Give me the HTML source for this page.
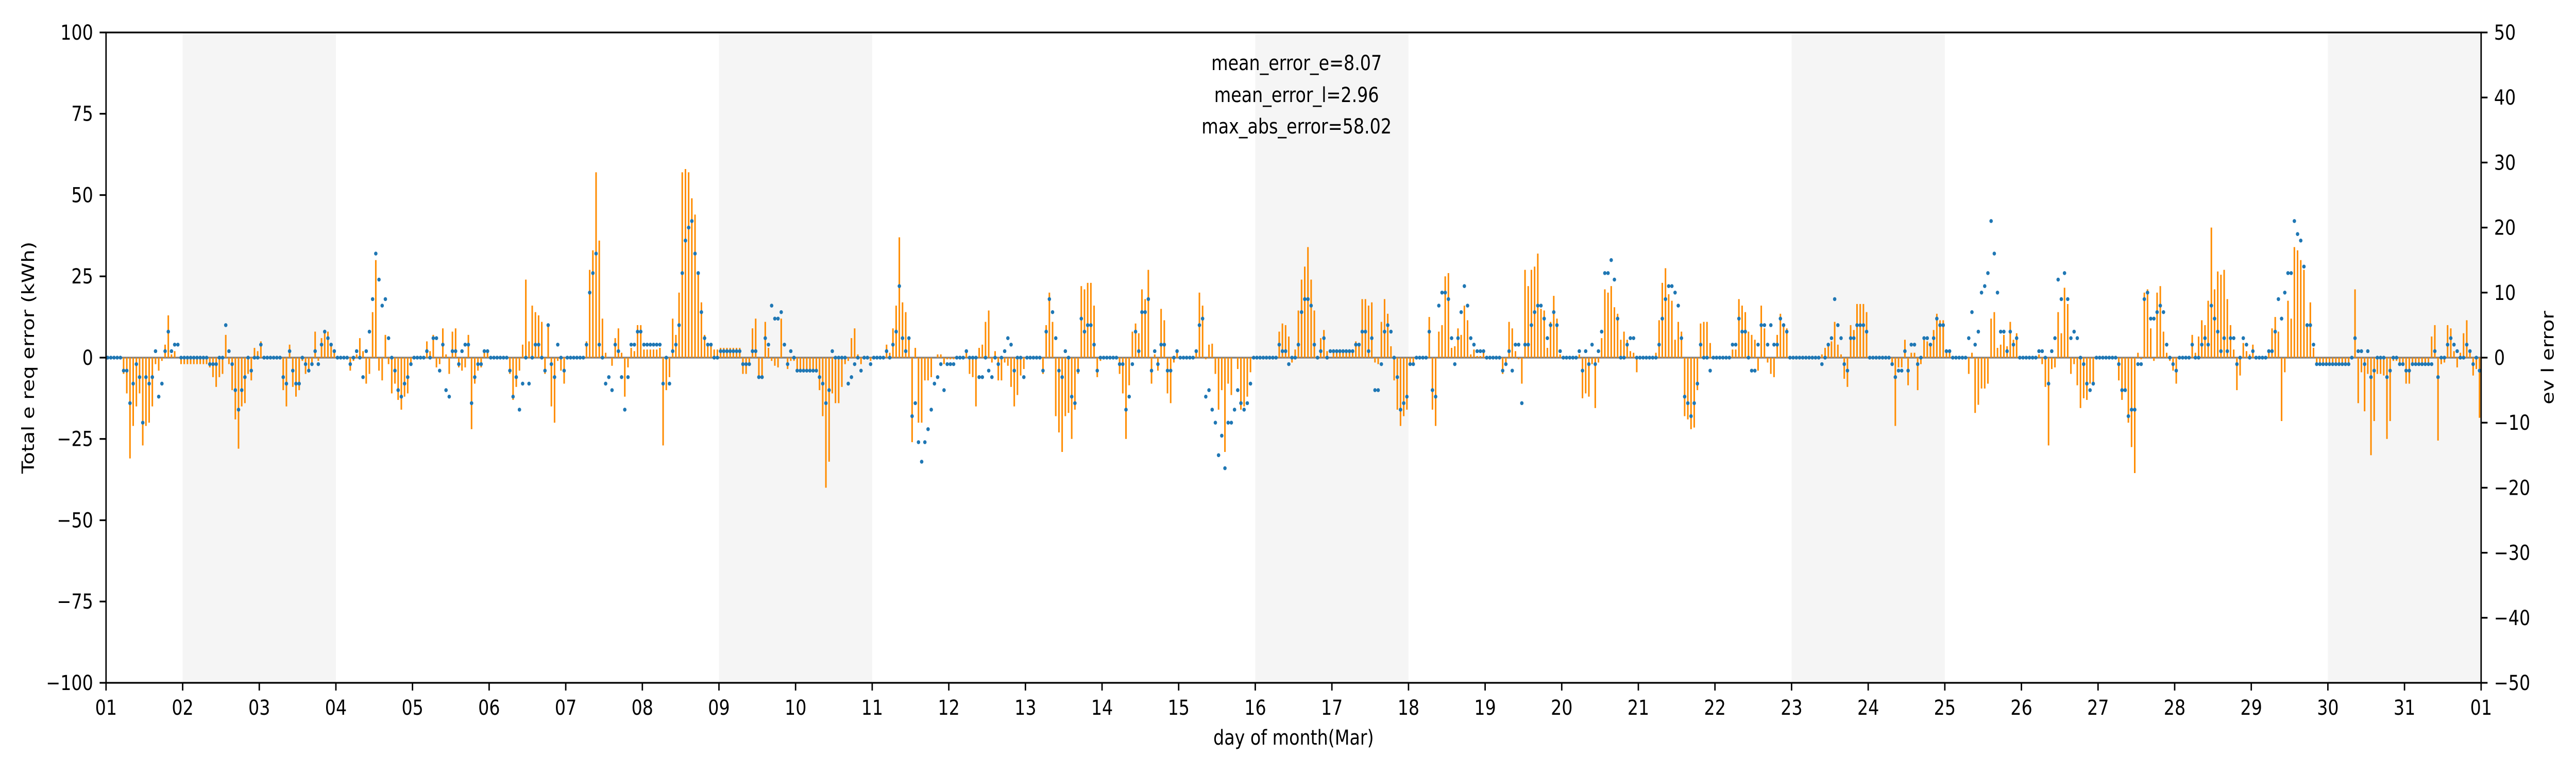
<!DOCTYPE html>
<html><head><meta charset="utf-8">
<style>
html,body{margin:0;padding:0;background:#fff;width:100%;height:100%;overflow:hidden;}
svg{display:block;width:100vw;height:100vh;font-family:"DejaVu Sans","Liberation Sans",sans-serif;}
</style></head>
<body>
<svg id="chart" viewBox="0 0 6000 1500" preserveAspectRatio="none" xmlns="http://www.w3.org/2000/svg">
<rect width="6000" height="1500" fill="#fff"/>
<g id="bands"></g>
<g id="zero"></g>
<g id="bars"></g>
<g id="dots"></g>
<g id="axes"></g>
<text x="3020" y="136" font-size="40" text-anchor="middle">mean_error_e=8.07</text>
<text x="3020" y="198" font-size="40" text-anchor="middle">mean_error_l=2.96</text>
<text x="3020" y="259" font-size="40" text-anchor="middle">max_abs_error=58.02</text>
<text x="3013" y="1445" font-size="40" text-anchor="middle">day of month(Mar)</text>
<text transform="translate(79,694) rotate(-90)" font-size="40" text-anchor="middle">Total e req error (kWh)</text>
<text transform="translate(5948,694) rotate(-90)" font-size="40" text-anchor="middle">ev l error</text>
</svg>
<script>
const dayLabels = ["01","02","03","04","05","06","07","08","09","10","11","12","13","14","15","16","17","18","19","20","21","22","23","24","25","26","27","28","29","30","31","01"];
const leftTicks = [-100,-75,-50,-25,0,25,50,75,100];
const rightTicks = [-50,-40,-30,-20,-10,0,10,20,30,40,50];
const weekendStarts = [1,8,15,22,29];
const barDays = [
[0,0,0,0,0,-5,-11,-31,-21,-15,-11,-27,-21,-20,-15,-2,-4,-1,4,13,1,2,0,-2],
[-2,-2,-2,-2,-2,-2,-2,-2,-3,-6,-9,-6,-5,7,-2,-10,-19,-28,-15,-14,-5,-7,3,2],
[5,0,0,0,0,0,0,-10,-15,4,-9,-12,-10,-1,-5,-4,-2,8,-1,6,8,8,4,2],
[0,0,0,0,-4,-1,1,6,2,-8,-5,14,30,-4,-7,7,-2,-11,-8,-13,-16,-12,-11,-2],
[0,0,0,0,5,2,7,-3,-2,9,1,-5,8,9,-3,-4,-3,7,-22,-8,-4,-3,2,2],
[0,0,0,0,0,0,-5,-13,-9,-4,4,24,5,16,14,13,11,-5,10,-15,-20,-1,-4,-8],
[0,0,0,0,0,0,5,27,33,57,36,12,1.5,0,-2.5,6,9,1.5,-12,-3,3,2,10,10],
[2.5,2.5,2.5,2.5,2.5,3,-27,-10,-6,12,7,20,57,58,57,49,44,26,17,7,4,4,2.5,2.5],
[3,3,3,3,3,3,3,-5,-5,-2,9,12,-6,-6,11,3,-1,-2.5,-3,12,0,-3.5,-1,-1],
[-4,-4,-4,-4,-4,-4,-4,-10,-18,-40,-32,-11,-14,-14,-9,-2,-1,6,9,1,-2,0,0,-1],
[0,0,0,0,4,1.5,9,16,37,17,14,6,-26,3,-20,-20,-7,-7,-6,0,1,1,-2,-0.5],
[-0.5,-0.5,0,0,0,2,-5,-6,-15,3,4,11,14.5,-1.5,2,-7,-7,-1.5,-2.5,-9,-15,-11.5,-5.5,-3.5],
[0,0,0,0,0,-5,10,20,11,-18,-23,-29,-18,-17,-25,-16,-5,22,21,23,23,16,-6,-1],
[0,0,0,0,0,-5,-11,-25,-8.5,8,10.5,7.5,21,18,27,-8,1,-4,15,11.5,-11,-14,-1.5,2],
[0,0,0,0,0,2,20,16,-0.5,4,4.3,-5,-16,-10,-29,-8,-11.5,0,-3.5,-16,-15,-12,-4.5,0],
[0,0,0,0,0,0,0,8,10.5,10,6.5,-1.5,2.5,14.5,24,28,34,24,14.5,0,6,8.5,2,0],
[2,2,2,2,2,2,2,5,4,18,18,16,17,-1.5,-2,11,18,13.5,3.5,-7,-16,-21,-18,-16],
[-1.5,-1.5,0,0,0,0,12.5,-16,-21,8,10,25,26,3,3.5,9,7,16,11.5,1,2.5,0.5,0.5,2],
[0,0,0,0,0,-5,-2,11,9,2,-0.5,-8,27,22,27,28,32,15,14.5,3,11,19,12,1],
[0,0,0,0,0,1,-12.5,-11,-12,-2,-15.5,-1.5,6,21,20,22,15.5,13.5,5.5,8,5.5,2,1.5,-4.5],
[0,0,0,0,0,1.5,11.5,23,27.5,19.5,17.5,5.5,11,8,-18,-19,-22,-21.5,-10,10.5,11,11,4.5,0],
[0,0,0,0,0,2.5,2.5,18,16,14,8,7,5.5,-4,16,9,-1.5,-5,-6,7,13.5,10.5,9,0],
[0,0,0,0,0,0,0,0,0,1,3,3.5,5,11,4,1,-6.5,-9,10,8.5,16.5,16.5,16.5,14],
[0,0,0,0,0,0,0,-1.5,-21,-3,-3,5.5,-8.5,1.5,1.5,-10,-2,6.5,5,4,8.5,13.5,11.5,11.5],
[2,2,0,0,0,0,0,-5,1.5,-17,-14.5,-9.5,-9.5,-8,12,14,3,4,7,3.5,11,5.5,7.5,0],
[0,0,0,0,0,1,-2,-9,-27,-3.5,-3,14,7.5,21.5,16.5,-5,-2,-8.5,-15.5,-12.5,-13,-8,-8,0],
[0,0,0,0,0,0,-7,-13,-10,-20,-27.5,-35.5,1.5,-0.5,20,21,9,-1,20,22,8,1.5,-1,-4],
[-8,0,0,0,0,7,1.5,6.5,11.5,10,17.5,40,21,26.5,25.5,27,18,10,2.5,-10,-5.5,4.5,2,1],
[4,0,0,0,0,2,9,12.5,8,-19.5,-4.5,17.5,12,34,33,30,27,10,17,3,-1.5,-2,-2,-2],
[-2,-2,-2,-2,-2,-2,-2,0,21,-14,-4.5,-16.5,-5,-30,-19.5,-5,-5,-5.5,-25,-19.5,-1,-1,-2,-2],
[-8,-8,-2,-2,-2,-2,-2,-2,6.5,10,-25.5,-2,-1.5,10,9,2,-3,1.5,7.5,11.5,2,-5.5,-3.5,-18.5]
];
const dotDays = [
[0,0,0,0,0,-2,-2,-7,-4,-1,-3,-10,-3,-4,-3,1,-6,-4,1,4,1,2,2,0],
[0,0,0,0,0,0,0,0,-1,-1,-1,0,0,5,1,-1,-5,-8,-5,-3,0,-2,0,0],
[2,0,0,0,0,0,0,-3,-4,1,-2,-4,-4,0,-1,-2,-1,1,-1,2,4,3,2,1],
[0,0,0,0,-1,0,1,0,-3,1,4,9,16,12,8,9,3,0,-2,-5,-6,-4,-3,-1],
[0,0,0,0,1,0,3,3,-2,2,-5,-6,1,1,-1,1,2,2,-7,-3,-1,-1,1,1],
[0,0,0,0,0,0,-2,-6,-3,-8,-4,0,-4,0,2,2,0,-2,5,-1,-3,2,0,-2],
[0,0,0,0,0,0,2,10,13,16,2,0,-4,-3,-5,2,1,-3,-8,-3,2,2,4,4],
[2,2,2,2,2,2,-4,0,-4,1,2,5,13,18,20,21,16,13,7,3,2,2,0,0],
[1,1,1,1,1,1,1,-1,-1,-1,1,1,-3,-3,3,2,8,6,6,7,2,-1,1,0],
[-2,-2,-2,-2,-2,-2,-2,-3,-4,-7,-5,1,0,0,0,0,-4,-3,-1,0,-2,0,0,-1],
[0,0,0,0,1,0,2,4,11,3,1,3,-9,-7,-13,-16,-13,-11,-8,-4,-3,-1,-5,-1],
[-1,-1,0,0,0,1,0,0,0,-3,-3,0,-2,-3,0,-1,0,1,3,2,-2,0,0,-3],
[0,0,0,0,0,-2,4,9,7,3,-2,-3,1,0,-6,-7,-2,6,4,5,5,2,-2,0],
[0,0,0,0,0,-1,-1,-8,-6,-1,4,1,7,7,9,-2,1,-1,2,2,-2,-2,0,1],
[0,0,0,0,0,1,5,6,-6,-5,-8,-10,-15,-12,-17,-10,-10,-8,-5,-7,-8,-7,-4,0],
[0,0,0,0,0,0,0,2,1,1,-1,0,0,2,7,9,9,8,2,0,1,3,0,1],
[1,1,1,1,1,1,1,2,2,4,4,1,3,-5,-5,-1,4,5,4,0,-3,-8,-7,-6],
[-1,-1,0,0,0,0,4,-5,-6,8,10,10,9,3,-1,3,7,11,8,3,2,1,1,1],
[0,0,0,0,0,-2,-1,1,-2,2,2,-7,2,2,5,7,8,8,6,3,5,7,5,1],
[0,0,0,0,0,1,-2,1,-1,2,-1,1,4,13,13,15,12,6,0,0,2,3,3,0],
[0,0,0,0,0,0,2,6,9,11,11,10,8,3,-6,-7,-9,-7,-4,2,0,0,-2,0],
[0,0,0,0,0,2,2,6,4,4,0,-2,-2,2,5,5,2,5,2,2,6,5,4,0],
[0,0,0,0,0,0,0,0,0,-1,0,2,3,9,5,3,-1,-2,3,3,5,5,5,4],
[0,0,0,0,0,0,0,-1,-3,-2,-2,1,-2,2,2,-1,0,3,3,2,3,6,5,5],
[1,1,0,0,0,0,0,3,7,2,4,10,11,13,21,16,10,4,4,1,4,2,3,0],
[0,0,0,0,0,1,1,0,-4,1,3,12,9,13,9,3,4,3,0,-1,-4,-5,-4,0],
[0,0,0,0,0,0,-1,-5,-5,-9,-8,-8,-1,-1,9,10,6,6,7,8,7,2,0,-1],
[-2,0,0,0,0,2,0,0,2,3,2,8,6,4,1,3,1,3,3,-1,0,3,2,0],
[1,0,0,0,0,1,1,4,9,6,10,13,13,21,19,18,14,5,5,2,-1,-1,-1,-1],
[-1,-1,-1,-1,-1,-1,-1,0,3,1,1,-1,1,-3,-2,0,0,0,-3,-2,0,0,-1,-1],
[-2,-2,-1,-1,-1,-1,-1,-1,-1,1,-3,0,0,2,3,2,1,0,0,2,1,-1,0,-2]
];
const barValues = [].concat(...barDays);
const dotValues = [].concat(...dotDays);

(function(){
  const NS = "http://www.w3.org/2000/svg";
  const X0 = 247, X1 = 5779, Y0 = 63, Y1 = 1325, NDAYS = 31;
  const xDay = d => X0 + (X1 - X0) * d / NDAYS;
  const xHour = i => xDay((i + 0.5) / 24);
  const yLeft = v => Y1 - (v + 100) / 200 * (Y1 - Y0);
  const yRight = v => Y1 - (v + 50) / 100 * (Y1 - Y0);
  function mk(tag, attrs, parent){
    const e = document.createElementNS(NS, tag);
    for (const k in attrs) e.setAttribute(k, attrs[k]);
    parent.appendChild(e);
    return e;
  }
  const bands = document.getElementById('bands');
  weekendStarts.forEach(d => {
    const r = mk('rect', {x: xDay(d), y: Y0, width: xDay(d + 2) - xDay(d), height: Y1 - Y0, fill: '#f5f5f5'}, bands);
    
    
  });
  const zero = document.getElementById('zero');
  const zl = mk('line', {x1: X0, x2: X1, y1: yLeft(0), y2: yLeft(0), stroke: '#808080', 'stroke-width': 3.5}, zero);
  
  
  const bars = document.getElementById('bars');
  barValues.forEach((v, i) => {
    const y0 = yLeft(0), y = yLeft(v);
    const b = mk('rect', {x: xHour(i) - 1.8, y: Math.min(y, y0), width: 3.6, height: Math.abs(y - y0), fill: '#ff8c00'}, bars);
    
    
  });
  const dots = document.getElementById('dots');
  dotValues.forEach((v, i) => {
    const c = mk('ellipse', {cx: xHour(i), cy: yRight(v), rx: 4, ry: 3.8, fill: '#1f77b4'}, dots);
    
    
  });
  const axes = document.getElementById('axes');
  const frame = mk('rect', {x: X0, y: Y0, width: X1 - X0, height: Y1 - Y0, fill: 'none', stroke: '#000', 'stroke-width': 3.3}, axes);
  
  
  dayLabels.forEach((lab, d) => {
    const x = xDay(d);
    const t = mk('line', {x1: x, x2: x, y1: Y1, y2: Y1 + 15, stroke: '#000', 'stroke-width': 3.3}, axes);
    
    
    const tx = mk('text', {x: x, y: 1387, 'font-size': 40, 'text-anchor': 'middle'}, axes);
    tx.textContent = lab;
    
    
  });
  leftTicks.forEach(v => {
    const y = yLeft(v);
    const t = mk('line', {x1: X0 - 15, x2: X0, y1: y, y2: y, stroke: '#000', 'stroke-width': 3.3}, axes);
    
    
    const tx = mk('text', {x: X0 - 30, y: y + 14, 'font-size': 40, 'text-anchor': 'end'}, axes);
    tx.textContent = String(v).replace('-', '\u2212');
    
    
  });
  rightTicks.forEach(v => {
    const y = yRight(v);
    const t = mk('line', {x1: X1, x2: X1 + 15, y1: y, y2: y, stroke: '#000', 'stroke-width': 3.3}, axes);
    
    
    const tx = mk('text', {x: X1 + 30, y: y + 14, 'font-size': 40, 'text-anchor': 'start'}, axes);
    tx.textContent = String(v).replace('-', '\u2212');
    
    
  });
})();
</script>
</body></html>
